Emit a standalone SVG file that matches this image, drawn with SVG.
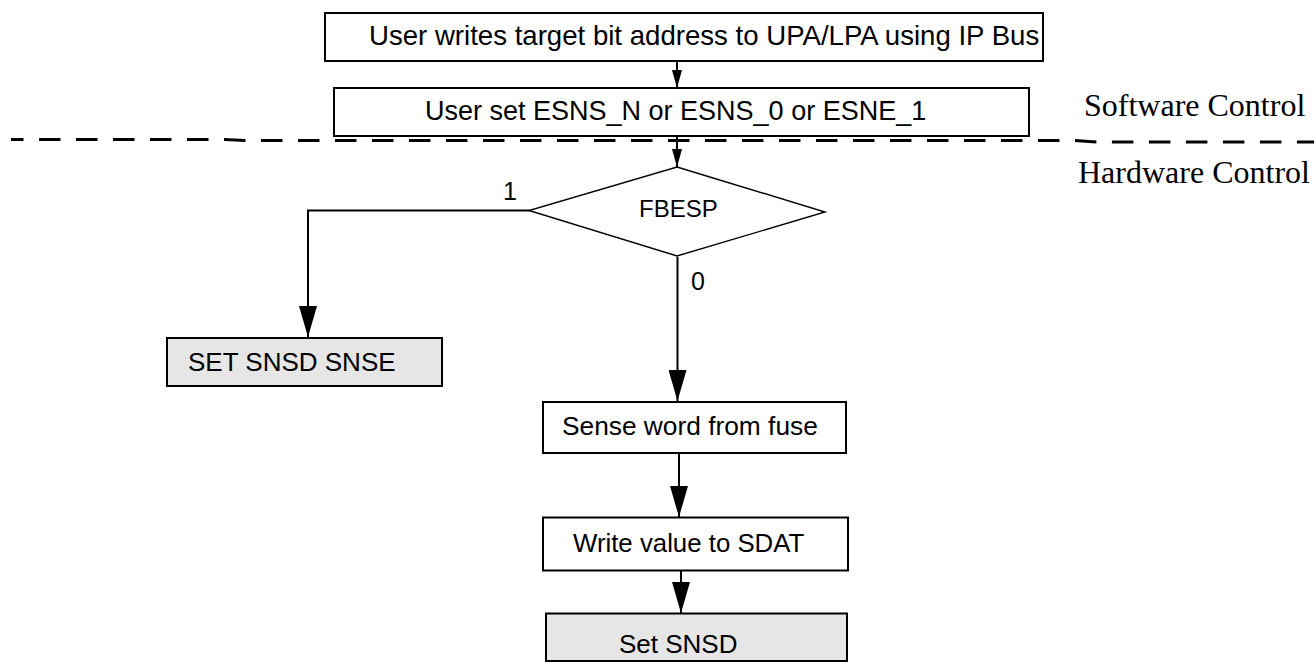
<svg xmlns="http://www.w3.org/2000/svg" width="1314" height="663" viewBox="0 0 1314 663">
<defs>
<style>
.box{fill:#ffffff;stroke:#000;stroke-width:2}
.gbox{fill:#e6e6e6;stroke:#000;stroke-width:2}
.dia{fill:#ffffff;stroke:#000;stroke-width:1.4}
.t{font-family:"Liberation Sans",Arial,sans-serif;font-size:25px;fill:#000}
.s{font-family:"Liberation Serif","Times New Roman",serif;font-size:32px;fill:#000}
.ln{fill:none;stroke:#000;stroke-width:2}
.dash{fill:none;stroke:#000;stroke-width:3;stroke-dasharray:21.5 15.5;stroke-dashoffset:9}
</style>
<marker id="big" markerUnits="userSpaceOnUse" markerWidth="31" markerHeight="18" refX="31" refY="9" orient="auto" viewBox="0 0 31 18">
<path d="M0,0 L31,9 L0,18 Z" fill="#000"/>
</marker>
<marker id="small" markerUnits="userSpaceOnUse" markerWidth="18" markerHeight="10" refX="18" refY="5" orient="auto" viewBox="0 0 18 10">
<path d="M0,0 L18,5 L0,10 Z" fill="#000"/>
</marker>
</defs>

<g id="divider">
<path class="dash" d="M11,139.5 H225 L245,140.5 H1075 L1097,142 H1314"/>
<text class="s" x="1084" y="116">Software Control</text>
<text class="s" x="1078" y="183">Hardware Control</text>
</g>

<g id="connectors">
<path class="ln" d="M677,61 V88" marker-end="url(#small)"/>
<path class="ln" d="M677,136 V167" marker-end="url(#small)"/>
<path class="ln" d="M530,210.5 H308 V337" marker-end="url(#big)"/>
<path class="ln" d="M677.5,257 V401" marker-end="url(#big)"/>
<path class="ln" d="M679,453 V517" marker-end="url(#big)"/>
<path class="ln" d="M681,571 V613" marker-end="url(#big)"/>
<text class="t" x="503" y="200">1</text>
<text class="t" x="691" y="290">0</text>
</g>

<g id="n1">
<rect class="box" x="325" y="13" width="718" height="48"/>
<text class="t" x="369" y="45" style="font-size:27.6px">User writes target bit address to UPA/LPA using IP Bus</text>
</g>

<g id="n2">
<rect class="box" x="334" y="88" width="695" height="48"/>
<text class="t" x="425" y="120" style="font-size:27px">User set ESNS_N or ESNS_0 or ESNE_1</text>
</g>

<g id="n3">
<path class="dia" d="M677,167 L825,212 L677,256 L529,210.5 Z"/>
<text class="t" x="639" y="217" style="font-size:24px">FBESP</text>
</g>

<g id="n4">
<rect class="gbox" x="167" y="338" width="275" height="48"/>
<text class="t" x="188" y="371" style="font-size:26px">SET SNSD SNSE</text>
</g>

<g id="n5">
<rect class="box" x="543" y="402" width="303" height="51"/>
<text class="t" x="562" y="435" style="font-size:26.3px">Sense word from fuse</text>
</g>

<g id="n6">
<rect class="box" x="543" y="517.5" width="305" height="53"/>
<text class="t" x="573" y="552" style="font-size:25.8px">Write value to SDAT</text>
</g>

<g id="n7">
<rect class="gbox" x="546" y="613.5" width="301" height="47.5"/>
<text class="t" x="619" y="653" style="font-size:26px">Set SNSD</text>
</g>
</svg>
